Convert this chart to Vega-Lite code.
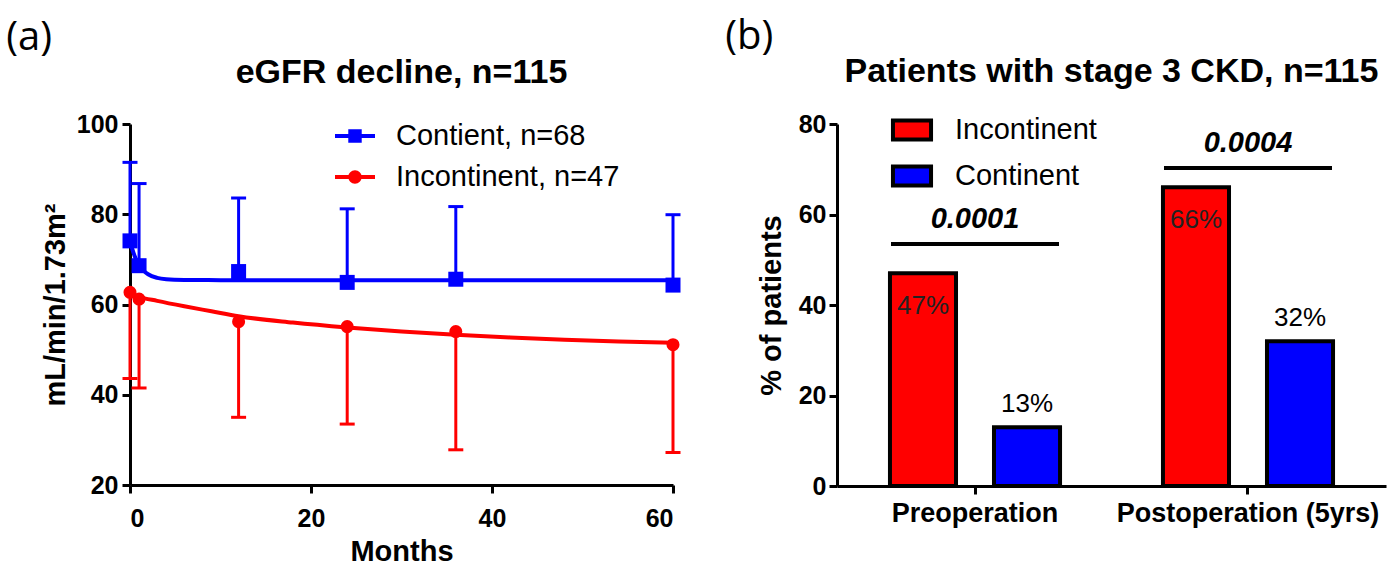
{
  "$schema": "https://vega.github.io/schema/vega-lite/v6.json",
  "background": "white",
  "padding": {"left": 6, "top": 17, "right": 4, "bottom": 4},
  "config": {
    "font": "Liberation Sans",
    "view": {"stroke": null},
    "axis": {
      "domainColor": "black", "domainWidth": 3,
      "tickColor": "black", "tickWidth": 3, "tickSize": 8,
      "labelColor": "black", "labelFont": "Liberation Sans", "labelFontSize": 25, "labelFontWeight": "bold", "labelPadding": 3, "labelLimit": 0,
      "titleColor": "black", "titleFont": "Liberation Sans", "titleFontSize": 29, "titleFontWeight": "bold",
      "grid": false
    },
    "legend": {"labelFont": "Liberation Sans", "labelFontSize": 29, "labelColor": "black", "padding": 0, "rowPadding": 10, "labelLimit": 0},
    "title": {"font": "Liberation Sans", "fontSize": 34, "fontWeight": "bold", "color": "black"},
    "concat": {"spacing": 38}
  },
  "resolve": {
    "scale": {"color": "independent", "fill": "independent"},
    "legend": {"color": "independent", "fill": "independent"}
  },
  "datasets": {
    "egfr": [
      {"group": "Contient, n=68", "month": 0, "mean": 74.1, "bound": 91.5},
      {"group": "Contient, n=68", "month": 1, "mean": 68.6, "bound": 86.8},
      {"group": "Contient, n=68", "month": 12, "mean": 67.3, "bound": 83.6},
      {"group": "Contient, n=68", "month": 24, "mean": 64.9, "bound": 81.2},
      {"group": "Contient, n=68", "month": 36, "mean": 65.6, "bound": 81.7},
      {"group": "Contient, n=68", "month": 60, "mean": 64.3, "bound": 79.9},
      {"group": "Incontinent, n=47", "month": 0, "mean": 62.7, "bound": 43.6},
      {"group": "Incontinent, n=47", "month": 1, "mean": 61.2, "bound": 41.5},
      {"group": "Incontinent, n=47", "month": 12, "mean": 56.2, "bound": 35.0},
      {"group": "Incontinent, n=47", "month": 24, "mean": 55.1, "bound": 33.5},
      {"group": "Incontinent, n=47", "month": 36, "mean": 54.0, "bound": 27.8},
      {"group": "Incontinent, n=47", "month": 60, "mean": 51.1, "bound": 27.2}
    ],
    "fit": [
      {"group": "Contient, n=68", "month": 0, "fit": 74.0},
      {"group": "Contient, n=68", "month": 0.5, "fit": 70.8},
      {"group": "Contient, n=68", "month": 1, "fit": 68.7},
      {"group": "Contient, n=68", "month": 1.5, "fit": 67.5},
      {"group": "Contient, n=68", "month": 2, "fit": 66.7},
      {"group": "Contient, n=68", "month": 3, "fit": 65.9},
      {"group": "Contient, n=68", "month": 4, "fit": 65.6},
      {"group": "Contient, n=68", "month": 6, "fit": 65.45},
      {"group": "Contient, n=68", "month": 10, "fit": 65.4},
      {"group": "Contient, n=68", "month": 60, "fit": 65.4},
      {"group": "Incontinent, n=47", "month": 0, "fit": 62.4},
      {"group": "Incontinent, n=47", "month": 1, "fit": 61.7},
      {"group": "Incontinent, n=47", "month": 3, "fit": 60.8},
      {"group": "Incontinent, n=47", "month": 6, "fit": 59.6},
      {"group": "Incontinent, n=47", "month": 9, "fit": 58.5},
      {"group": "Incontinent, n=47", "month": 12, "fit": 57.4},
      {"group": "Incontinent, n=47", "month": 18, "fit": 56.0},
      {"group": "Incontinent, n=47", "month": 24, "fit": 54.9},
      {"group": "Incontinent, n=47", "month": 30, "fit": 54.0},
      {"group": "Incontinent, n=47", "month": 36, "fit": 53.3},
      {"group": "Incontinent, n=47", "month": 42, "fit": 52.7},
      {"group": "Incontinent, n=47", "month": 48, "fit": 52.2},
      {"group": "Incontinent, n=47", "month": 54, "fit": 51.8},
      {"group": "Incontinent, n=47", "month": 60, "fit": 51.5}
    ],
    "ckd": [
      {"stage": "Preoperation", "group": "Incontinent", "pct": 47, "label": "47%"},
      {"stage": "Preoperation", "group": "Continent", "pct": 13, "label": "13%"},
      {"stage": "Postoperation (5yrs)", "group": "Incontinent", "pct": 66, "label": "66%"},
      {"stage": "Postoperation (5yrs)", "group": "Continent", "pct": 32, "label": "32%"}
    ],
    "pvals": [
      {"stage": "Preoperation", "p": "0.0001", "bracket": 53.5},
      {"stage": "Postoperation (5yrs)", "p": "0.0004", "bracket": 70.3}
    ]
  },
  "hconcat": [
    {
      "title": {"text": "(a)", "anchor": "start", "frame": "bounds", "font": "Open Sans", "fontSize": 40, "fontWeight": "normal", "dx": -35, "offset": -2},
      "resolve": {
        "scale": {"fill": "independent"},
        "legend": {"fill": "independent"}
      },
      "hconcat": [
        {
          "width": 543,
          "height": 361,
          "title": {"text": "eGFR decline, n=115", "offset": 22},
          "layer": [
            {
              "data": {"name": "fit"},
              "mark": {"type": "line", "strokeWidth": 4, "interpolate": "monotone"},
              "encoding": {
                "x": {"field": "month", "type": "quantitative", "scale": {"domain": [0, 60], "nice": false},
                      "axis": {"values": [0, 20, 40, 60], "title": "Months", "titlePadding": 6, "labelPadding": 13}},
                "y": {"field": "fit", "type": "quantitative", "scale": {"domain": [20, 100], "nice": false, "zero": false},
                      "axis": {"values": [20, 40, 60, 80, 100], "title": "mL/min/1.73m²", "titlePadding": 6, "labelPadding": 4}},
                "stroke": {"condition": {"test": "datum.group === 'Contient, n=68'", "value": "#0000ff"}, "value": "#ff0000"},
                "detail": {"field": "group"}
              }
            },
            {
              "data": {"name": "egfr"},
              "mark": {"type": "rule", "strokeWidth": 3},
              "encoding": {
                "x": {"field": "month", "type": "quantitative"},
                "y": {"field": "mean", "type": "quantitative"},
                "y2": {"field": "bound"},
                "stroke": {"condition": {"test": "datum.group === 'Contient, n=68'", "value": "#0000ff"}, "value": "#ff0000"}
              }
            },
            {
              "data": {"name": "egfr"},
              "mark": {"type": "point", "shape": "M-1,0H1", "filled": false, "strokeWidth": 3, "size": 225, "opacity": 1, "clip": false},
              "encoding": {
                "x": {"field": "month", "type": "quantitative"},
                "y": {"field": "bound", "type": "quantitative"},
                "stroke": {"condition": {"test": "datum.group === 'Contient, n=68'", "value": "#0000ff"}, "value": "#ff0000"}
              }
            },
            {
              "data": {"name": "egfr"},
              "transform": [{"filter": "datum.group === 'Contient, n=68'"}],
              "mark": {"type": "point", "shape": "square", "filled": true, "size": 225, "opacity": 1, "strokeWidth": 0, "clip": false},
              "encoding": {
                "x": {"field": "month", "type": "quantitative"},
                "y": {"field": "mean", "type": "quantitative"},
                "fill": {"field": "group", "type": "nominal",
                         "scale": {"domain": ["Contient, n=68", "Incontinent, n=47"], "range": ["#0000ff", "#ff0000"]},
                         "legend": {
                           "title": null, "orient": "none", "legendX": 209, "legendY": -4,
                           "symbolType": "M-1.25,-0.125H1.25V0.125H-1.25Z",
                           "symbolSize": 1024, "symbolStrokeWidth": 0, "labelOffset": 25, "labelFontSize": 29,
                           "encoding": {"symbols": {
                             "shape": {"condition": {"test": "datum.value === 'Contient, n=68'", "value": "M-1.25,-0.125H1.25V0.125H-1.25Z M-0.42,-0.42H0.42V0.42H-0.42Z"},
                                       "value": "M-1.25,-0.125H1.25V0.125H-1.25Z M0.42,0A0.42,0.42,0,1,1,-0.42,0A0.42,0.42,0,1,1,0.42,0Z"}
                           }}
                         }}
              }
            },
            {
              "data": {"name": "egfr"},
              "transform": [{"filter": "datum.group === 'Incontinent, n=47'"}],
              "mark": {"type": "point", "shape": "circle", "filled": true, "size": 170, "opacity": 1, "strokeWidth": 0, "clip": false},
              "encoding": {
                "x": {"field": "month", "type": "quantitative"},
                "y": {"field": "mean", "type": "quantitative"},
                "fill": {"field": "group", "type": "nominal",
                         "legend": {
                           "title": null, "orient": "none", "legendX": 209, "legendY": -4,
                           "symbolType": "M-1.25,-0.125H1.25V0.125H-1.25Z",
                           "symbolSize": 1024, "symbolStrokeWidth": 0, "labelOffset": 25, "labelFontSize": 29,
                           "encoding": {"symbols": {
                             "shape": {"condition": {"test": "datum.value === 'Contient, n=68'", "value": "M-1.25,-0.125H1.25V0.125H-1.25Z M-0.42,-0.42H0.42V0.42H-0.42Z"},
                                       "value": "M-1.25,-0.125H1.25V0.125H-1.25Z M0.42,0A0.42,0.42,0,1,1,-0.42,0A0.42,0.42,0,1,1,0.42,0Z"}
                           }}
                         }}
              }
            }
          ]
        }
      ]
    },
    {
      "title": {"text": "(b)", "anchor": "start", "frame": "bounds", "font": "Open Sans", "fontSize": 40, "fontWeight": "normal", "dx": -32, "offset": -2},
      "resolve": {
        "scale": {"color": "independent"},
        "legend": {"color": "independent"}
      },
      "hconcat": [
        {
          "width": 549,
          "height": 362,
          "title": {"text": "Patients with stage 3 CKD, n=115", "offset": 23},
          "layer": [
            {
              "data": {"name": "ckd"},
              "mark": {"type": "bar", "stroke": "black", "strokeWidth": 4},
              "encoding": {
                "x": {"field": "stage", "type": "nominal",
                      "scale": {"domain": ["Preoperation", "Postoperation (5yrs)"], "paddingInner": 0.377, "paddingOuter": 0.194},
                      "axis": {"title": null, "labelAngle": 0, "labelFontSize": 27, "labelPadding": 6}},
                "xOffset": {"field": "group", "type": "nominal",
                            "scale": {"domain": ["Incontinent", "Continent"], "paddingInner": 0.365, "paddingOuter": 0}},
                "y": {"field": "pct", "type": "quantitative", "scale": {"domain": [0, 80], "nice": false},
                      "axis": {"values": [0, 20, 40, 60, 80], "title": "% of patients", "titlePadding": 12}},
                "color": {"field": "group", "type": "nominal",
                          "scale": {"domain": ["Incontinent", "Continent"], "range": ["#ff0000", "#0000ff"]},
                          "legend": {
                            "title": null, "orient": "none", "legendX": 57, "legendY": -12,
                            "symbolType": "M-1.19,-0.59H1.19V0.59H-1.19Z", "symbolSize": 1024,
                            "symbolStrokeColor": "black", "symbolStrokeWidth": 4, "symbolOpacity": 1,
                            "labelOffset": 25, "labelFontSize": 29
                          }}
              }
            },
            {
              "data": {"name": "ckd"},
              "transform": [{"filter": "datum.group === 'Incontinent'"}],
              "mark": {"type": "text", "fontSize": 26, "color": "#222222", "baseline": "middle", "dy": 33},
              "encoding": {
                "x": {"field": "stage", "type": "nominal"},
                "xOffset": {"field": "group", "type": "nominal"},
                "y": {"field": "pct", "type": "quantitative"},
                "text": {"field": "label"}
              }
            },
            {
              "data": {"name": "ckd"},
              "transform": [{"filter": "datum.group === 'Continent'"}],
              "mark": {"type": "text", "fontSize": 26, "color": "black", "baseline": "middle", "dy": -23},
              "encoding": {
                "x": {"field": "stage", "type": "nominal"},
                "xOffset": {"field": "group", "type": "nominal"},
                "y": {"field": "pct", "type": "quantitative"},
                "text": {"field": "label"}
              }
            },
            {
              "data": {"name": "pvals"},
              "mark": {"type": "tick", "color": "black", "size": 168, "thickness": 4, "opacity": 1},
              "encoding": {
                "x": {"field": "stage", "type": "nominal"},
                "y": {"field": "bracket", "type": "quantitative"}
              }
            },
            {
              "data": {"name": "pvals"},
              "mark": {"type": "text", "fontSize": 29, "fontWeight": "bold", "fontStyle": "italic", "color": "black", "baseline": "middle", "dy": -25},
              "encoding": {
                "x": {"field": "stage", "type": "nominal"},
                "y": {"field": "bracket", "type": "quantitative"},
                "text": {"field": "p"}
              }
            }
          ]
        }
      ]
    }
  ]
}
